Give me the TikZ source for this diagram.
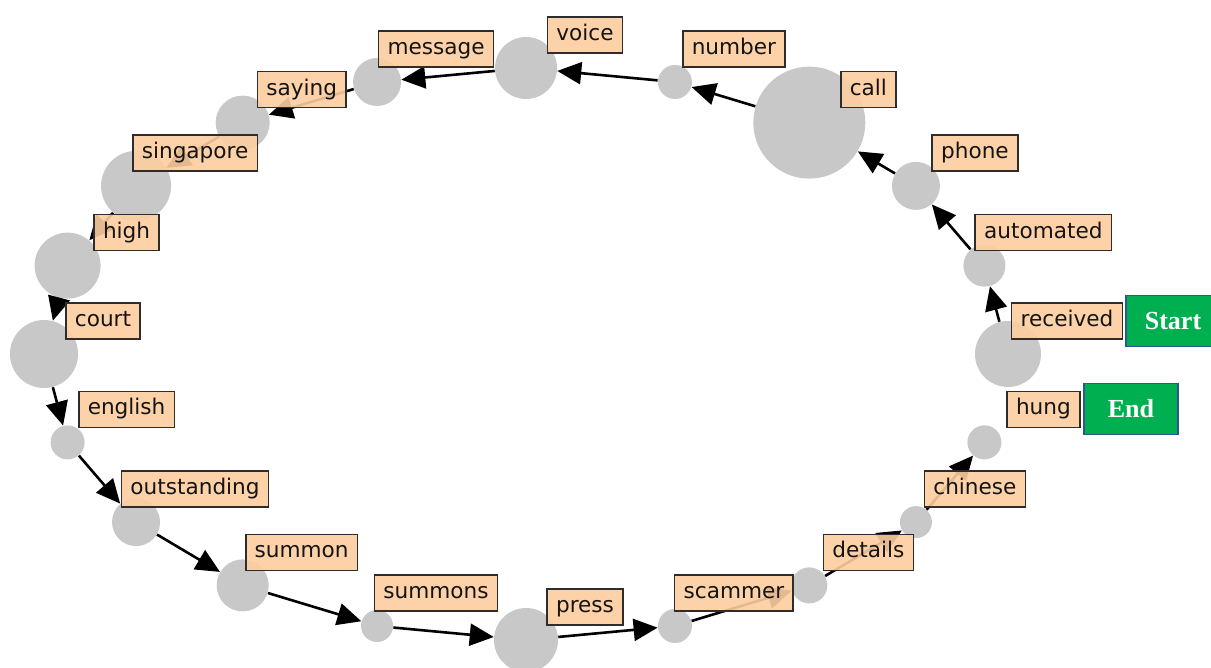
\documentclass[tikz,border=0pt]{standalone}
\usepackage{fontspec}
\setmainfont{DejaVu Sans}
\newfontfamily\tagfont{Liberation Serif}
\usetikzlibrary{arrows.meta,calc}
\definecolor{dotgray}{RGB}{200,200,200}
\definecolor{peach}{RGB}{253,206,160}
\definecolor{boxedge}{RGB}{45,45,45}
\definecolor{tagGreen}{RGB}{0,176,80}
\definecolor{tagBlue}{RGB}{47,85,151}
\begin{document}
\begin{tikzpicture}[x=0.5pt,y=-0.5pt,
  dot/.style={circle,fill=dotgray,draw=none,inner sep=0pt,minimum size=#1},
  wordbox/.style={rectangle,draw=boxedge,line width=0.8pt,fill=peach,fill opacity=0.9,
    text opacity=1,font=\fontsize{10.8}{13}\selectfont,text=black!92,
    inner xsep=4.5pt,inner ysep=0pt,minimum height=18pt,text height=8pt,text depth=2.5pt},
  link/.style={line width=1.3pt,-{Triangle[length=12pt,width=11pt]}},
  flag/.style={rectangle,fill=tagGreen,draw=tagBlue,line width=0.6pt,minimum width=47pt,
    minimum height=25.5pt,inner sep=0pt,text=white,font=\tagfont\bfseries\fontsize{13}{15}\selectfont}]
\useasboundingbox (0,0) rectangle (1211,668);
\clip (0,0) rectangle (1211,668);
\fill[white] (0,0) rectangle (1211,668);

% word nodes, evenly spaced round an ellipse
\foreach \w/\r [count=\k from 0] in {received/33pt, automated/21pt, phone/24pt, call/56pt,
    number/17pt, voice/31pt, message/24pt, saying/27pt, singapore/35pt, high/33pt,
    court/34pt, english/17pt, outstanding/24pt, summon/26pt, summons/16pt, press/32pt,
    scammer/17pt, details/18pt, chinese/16pt, hung/17pt} {
  \node[dot=\r] (\w) at ({526+482*cos(18*\k)},{354-286*sin(18*\k)}) {};
}

% word sequence
\foreach \a/\b in {received/automated, automated/phone, phone/call, call/number,
    number/voice, voice/message, message/saying, saying/singapore, singapore/high,
    high/court, court/english, english/outstanding, outstanding/summon, summon/summons,
    summons/press, press/scammer, scammer/details, details/chinese, chinese/hung} {
  \draw[link] (\a) -- (\b);
}

% word labels
\foreach \w in {received, automated, phone, call, number, voice, message, saying,
    singapore, high, court, english, outstanding, summon, summons, press, scammer,
    details, chinese, hung} {
  \node[wordbox] (\w-tag) at ($(\w)+(59,-33)$) {\w};
}

% start / end markers
\node[flag] (startflag) at (1173,321) {Start};
\node[flag] (endflag) at (1131,409) {End};
\end{tikzpicture}
\end{document}
